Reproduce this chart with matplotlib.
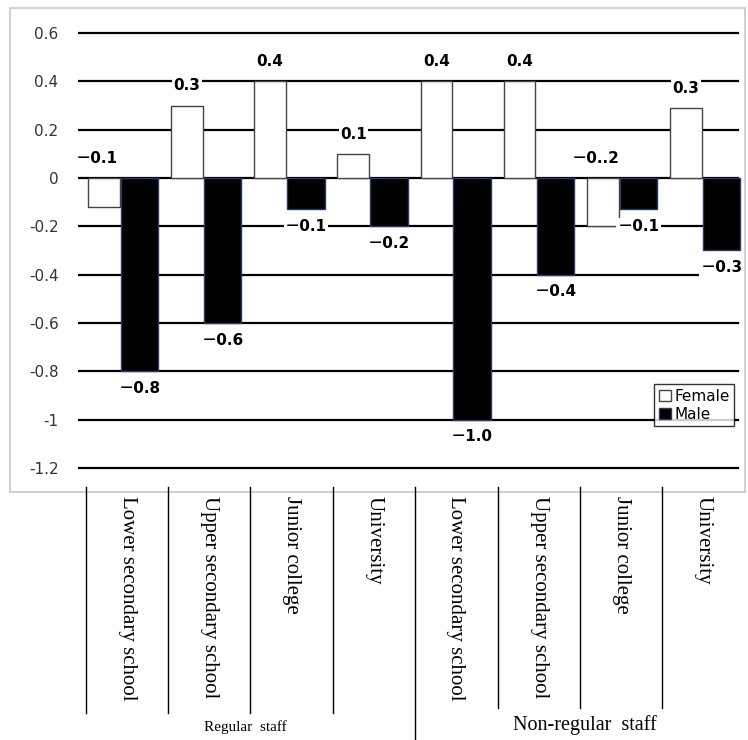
import matplotlib.pyplot as plt
import numpy as np
from matplotlib.patches import Rectangle
from matplotlib.lines import Line2D

categories = ["Lower secondary school", "Upper secondary school", "Junior college", "University"] * 2
groups = ["Regular  staff", "Non-regular  staff"]
female = [-0.12, 0.3, 0.4, 0.1, 0.4, 0.4, -0.2, 0.29]
male = [-0.8, -0.6, -0.13, -0.2, -1.0, -0.4, -0.13, -0.3]
female_labels = ["－0.1", "0.3", "0.4", "0.1", "0.4", "0.4", "－0..2", "0.3"]
male_labels = ["－0.8", "－0.6", "－0.1", "－0.2", "－1.0", "－0.4", "－0.1", "－0.3"]

plt.rcParams['font.family'] = ['DejaVu Sans', 'Noto Sans CJK JP']

W, H = 748, 740
fig = plt.figure(figsize=(W / 100, H / 100), dpi=100)

def fx(px):
    return px / W

def fy(py):
    return 1 - py / H

# outer grey frame
fig.patches.append(Rectangle((fx(10), fy(492)), fx(735), 484 / H, transform=fig.transFigure,
                             fill=False, edgecolor="#c8c8c8", lw=1.2))

ax = fig.add_axes([fx(78), fy(480), fx(745 - 78), 460 / H])
x = np.arange(len(categories))
ax.set_xlim(-0.53, 7.49)
ax.set_ylim(-1.25, 0.654)
ax.set_yticks(np.round(np.arange(-1.2, 0.61, 0.2), 1))
ax.set_yticklabels(["-1.2", "-1", "-0.8", "-0.6", "-0.4", "-0.2", "0", "0.2", "0.4", "0.6"],
                   fontsize=11, color="#333333")
ax.tick_params(axis="y", length=0, pad=14)
ax.set_xticks([])
for s in ax.spines.values():
    s.set_visible(False)
ax.patch.set_alpha(0)
for t in ax.get_yticks():
    ax.axhline(t, color="black", lw=1.6, zorder=0, xmin=-0.005, xmax=0.99)

ax.bar(x - 0.22, female, width=0.38, color="white", edgecolor="#444444", lw=1, label="Female", zorder=2)
ax.bar(x + 0.21, male, width=0.45, color="black", edgecolor="#2b3a66", lw=1, label="Male", zorder=2)

for i in range(len(x)):
    fv = female[i]
    ytop = max(fv, 0) + 0.05
    ax.text(x[i] - 0.3 if fv < 0 else x[i] - 0.22, ytop, female_labels[i], ha="center", va="bottom",
            fontsize=11, fontweight="bold",
            bbox=dict(facecolor="white", edgecolor="none", pad=1))
    ax.text(x[i] + 0.21, male[i] - 0.04, male_labels[i], ha="center", va="top",
            fontsize=11, fontweight="bold",
            bbox=dict(facecolor="white", edgecolor="none", pad=1))

leg = ax.legend(loc="lower right", bbox_to_anchor=(0.995, 0.1), fontsize=11, frameon=True,
                fancybox=False, edgecolor="black", handlelength=0.8, handleheight=0.8,
                handletextpad=0.2, borderpad=0.3, labelspacing=0.2)
leg.get_frame().set_linewidth(1)

# category axis below
seps = [86, 168, 250, 333, 415, 498, 580, 662]
for i, sx in enumerate(seps):
    bottom = 740 if i == 4 else (713 if i < 4 else 708)
    fig.add_artist(Line2D([fx(sx), fx(sx)], [fy(487), fy(bottom)], color="black", lw=1))
centers = [c + 41 for c in seps]
for c, lab in zip(centers, categories):
    fig.text(fx(c), fy(496), lab, rotation=270, ha="center", va="top",
             family="Liberation Serif", fontsize=15)
fig.text(fx(245), fy(727), groups[0], ha="center", va="center", family="Liberation Serif", fontsize=11)
fig.text(fx(585), fy(725), groups[1], ha="center", va="center", family="Liberation Serif", fontsize=14.5)

fig.savefig("out.png", dpi=100)
